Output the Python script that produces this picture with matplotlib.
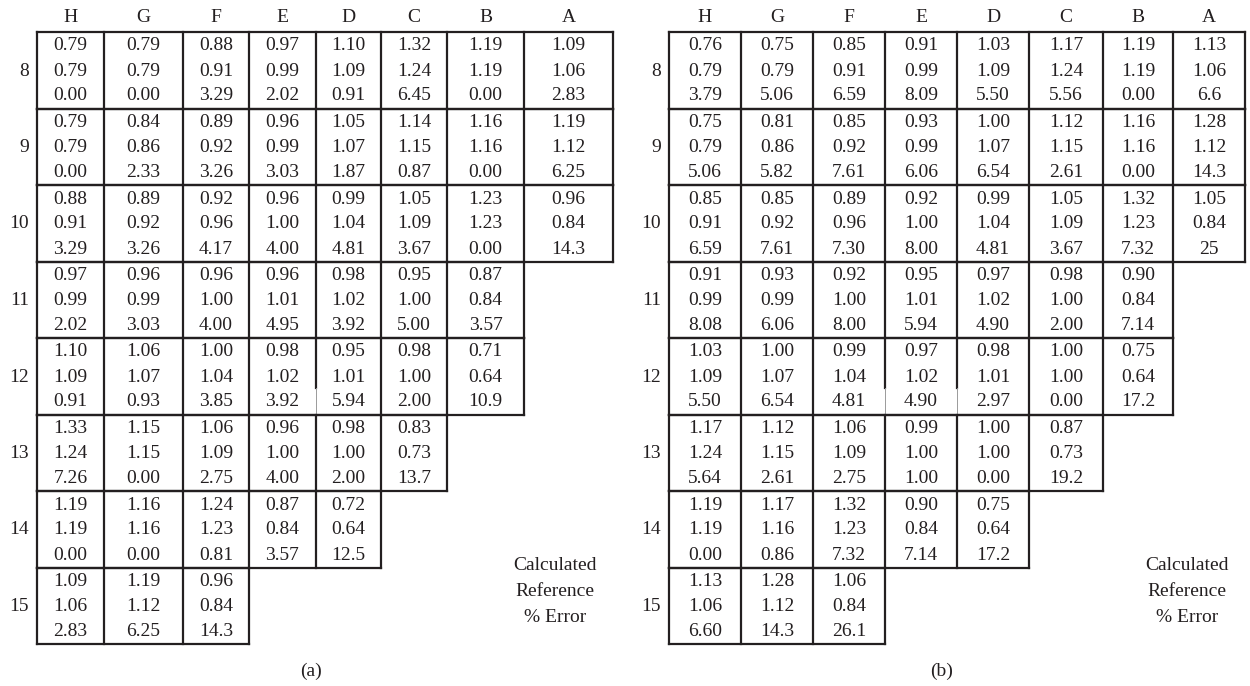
import matplotlib.pyplot as plt

# column letters and row (assembly) numbers
cols = ["H", "G", "F", "E", "D", "C", "B", "A"]
rows = ["8", "9", "10", "11", "12", "13", "14", "15"]

# reference values (same in both panels)
ref_vals = [
    ["0.79", "0.79", "0.91", "0.99", "1.09", "1.24", "1.19", "1.06"],
    ["0.79", "0.86", "0.92", "0.99", "1.07", "1.15", "1.16", "1.12"],
    ["0.91", "0.92", "0.96", "1.00", "1.04", "1.09", "1.23", "0.84"],
    ["0.99", "0.99", "1.00", "1.01", "1.02", "1.00", "0.84"],
    ["1.09", "1.07", "1.04", "1.02", "1.01", "1.00", "0.64"],
    ["1.24", "1.15", "1.09", "1.00", "1.00", "0.73"],
    ["1.19", "1.16", "1.23", "0.84", "0.64"],
    ["1.06", "1.12", "0.84"],
]

# panel (a)
calc_a = [
    ["0.79", "0.79", "0.88", "0.97", "1.10", "1.32", "1.19", "1.09"],
    ["0.79", "0.84", "0.89", "0.96", "1.05", "1.14", "1.16", "1.19"],
    ["0.88", "0.89", "0.92", "0.96", "0.99", "1.05", "1.23", "0.96"],
    ["0.97", "0.96", "0.96", "0.96", "0.98", "0.95", "0.87"],
    ["1.10", "1.06", "1.00", "0.98", "0.95", "0.98", "0.71"],
    ["1.33", "1.15", "1.06", "0.96", "0.98", "0.83"],
    ["1.19", "1.16", "1.24", "0.87", "0.72"],
    ["1.09", "1.19", "0.96"],
]
err_a = [
    ["0.00", "0.00", "3.29", "2.02", "0.91", "6.45", "0.00", "2.83"],
    ["0.00", "2.33", "3.26", "3.03", "1.87", "0.87", "0.00", "6.25"],
    ["3.29", "3.26", "4.17", "4.00", "4.81", "3.67", "0.00", "14.3"],
    ["2.02", "3.03", "4.00", "4.95", "3.92", "5.00", "3.57"],
    ["0.91", "0.93", "3.85", "3.92", "5.94", "2.00", "10.9"],
    ["7.26", "0.00", "2.75", "4.00", "2.00", "13.7"],
    ["0.00", "0.00", "0.81", "3.57", "12.5"],
    ["2.83", "6.25", "14.3"],
]

# panel (b)
calc_b = [
    ["0.76", "0.75", "0.85", "0.91", "1.03", "1.17", "1.19", "1.13"],
    ["0.75", "0.81", "0.85", "0.93", "1.00", "1.12", "1.16", "1.28"],
    ["0.85", "0.85", "0.89", "0.92", "0.99", "1.05", "1.32", "1.05"],
    ["0.91", "0.93", "0.92", "0.95", "0.97", "0.98", "0.90"],
    ["1.03", "1.00", "0.99", "0.97", "0.98", "1.00", "0.75"],
    ["1.17", "1.12", "1.06", "0.99", "1.00", "0.87"],
    ["1.19", "1.17", "1.32", "0.90", "0.75"],
    ["1.13", "1.28", "1.06"],
]
err_b = [
    ["3.79", "5.06", "6.59", "8.09", "5.50", "5.56", "0.00", "6.6"],
    ["5.06", "5.82", "7.61", "6.06", "6.54", "2.61", "0.00", "14.3"],
    ["6.59", "7.61", "7.30", "8.00", "4.81", "3.67", "7.32", "25"],
    ["8.08", "6.06", "8.00", "5.94", "4.90", "2.00", "7.14"],
    ["5.50", "6.54", "4.81", "4.90", "2.97", "0.00", "17.2"],
    ["5.64", "2.61", "2.75", "1.00", "0.00", "19.2"],
    ["0.00", "0.86", "7.32", "7.14", "17.2"],
    ["6.60", "14.3", "26.1"],
]

legend_lines = ["Calculated", "Reference", "% Error"]

# ---- layout (pixels) ----
ink = "#231f20"
fs = 14
edges_a = [37, 104, 183, 249, 316, 381, 447, 524, 613]
edges_b = [669, 741, 813, 885, 957, 1029, 1103, 1173, 1245]
top = 32
row_h = 76.5
line_off = [14, 39, 64]
# vertical segments drawn faint in the lower third (row index, edge index)
faint_a = [(4, 4)]
faint_b = [(4, 3), (4, 4)]

plt.rcParams["font.family"] = ["Liberation Serif", "DejaVu Serif"]
fig = plt.figure(figsize=(12.5, 6.86), dpi=100)
ax = fig.add_axes([0, 0, 1, 1])
ax.set_xlim(0, 1250)
ax.set_ylim(686, 0)
ax.axis("off")


def draw_panel(edges, calc, err, faint, label, label_x, legend_x):
    for j, c in enumerate(cols):
        ax.text((edges[j] + edges[j + 1]) / 2, 17, c, ha="center", va="center",
                fontsize=fs, color=ink)
    for i, r in enumerate(rows):
        y0 = top + i * row_h
        y1 = y0 + row_h
        n = len(calc[i])
        ax.text(edges[0] - 8, y0 + line_off[1], r, ha="right", va="center",
                fontsize=fs, color=ink)
        # horizontal borders
        ax.plot([edges[0], edges[n]], [y0, y0], color=ink, lw=1.6,
                solid_capstyle="projecting")
        ax.plot([edges[0], edges[n]], [y1, y1], color=ink, lw=1.6,
                solid_capstyle="projecting")
        # vertical borders
        for k in range(n + 1):
            if (i, k) in faint:
                ym = y0 + row_h * 0.66
                ax.plot([edges[k], edges[k]], [y0, ym], color=ink, lw=1.6)
                ax.plot([edges[k], edges[k]], [ym, y1], color="#9a9a9a", lw=0.7)
            else:
                ax.plot([edges[k], edges[k]], [y0, y1], color=ink, lw=1.6)
        for j in range(n):
            xc = (edges[j] + edges[j + 1]) / 2
            for t, val in enumerate([calc[i][j], ref_vals[i][j], err[i][j]]):
                ax.text(xc, y0 + line_off[t], val, ha="center", va="center",
                        fontsize=fs, color=ink)
    for t, s in enumerate(legend_lines):
        ax.text(legend_x, 565 + 26 * t, s, ha="center", va="center",
                fontsize=fs, color=ink)
    ax.text(label_x, 671, label, ha="center", va="center", fontsize=fs, color=ink)


draw_panel(edges_a, calc_a, err_a, faint_a, "(a)", 311, 555)
draw_panel(edges_b, calc_b, err_b, faint_b, "(b)", 942, 1187)

fig.savefig("out.png", dpi=100)
